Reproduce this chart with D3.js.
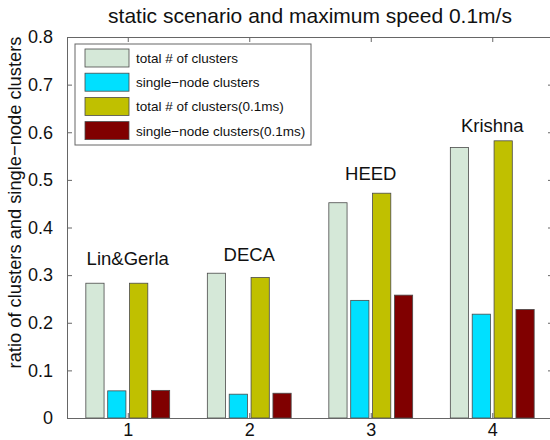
<!DOCTYPE html>
<html lang="en">
<head>
<meta charset="UTF-8">
<title>static scenario and maximum speed 0.1m/s</title>
<script src="https://d3js.org/d3.v7.min.js"></script>
<style>
    body { margin: 0; background: #fff; font-family: "Liberation Sans", Arial, sans-serif; }
    svg { display: block; }
</style>
</head>
<body>
<div id="chart"></div>
<script>
    // data
    const groups = [1, 2, 3, 4];
    const series = ["total # of clusters", "single\u2212node clusters",
                    "total # of clusters(0.1ms)", "single\u2212node clusters(0.1ms)"];
    const totalStatic = [0.283, 0.304, 0.452, 0.568];
    const singleStatic = [0.057, 0.050, 0.247, 0.218];
    const totalMoving = [0.283, 0.295, 0.472, 0.582];
    const singleMoving = [0.058, 0.052, 0.258, 0.228];
    const protocols = ["Lin&Gerla", "DECA", "HEED", "Krishna"];
    const labelY = [0.321, 0.329, 0.5, 0.601];
    const yTicks = [0, 0.1, 0.2, 0.3, 0.4, 0.5, 0.6, 0.7, 0.8];

    const colors = ["#d5e8d8", "#00e0ff", "#c0c000", "#800000"];
    const values = [totalStatic, singleStatic, totalMoving, singleMoving];

    const W = 550, H = 440;
    const margin = { top: 37, right: -3, bottom: 22, left: 67 };
    const width = W - margin.left - margin.right,
          height = H - margin.top - margin.bottom;

    const svg = d3.select("#chart").append("svg")
        .attr("width", W).attr("height", H);
    const g = svg.append("g")
        .attr("transform", `translate(${margin.left},${margin.top})`);

    const x = d3.scaleLinear().domain([0.5, 4.5]).range([0, width]);
    const y = d3.scaleLinear().domain([0, 0.8]).range([height, 0]);

    const step = x(2) - x(1);
    const barW = step * 0.15;
    const offsets = [-1.5, -0.5, 0.5, 1.5].map(k => k * step * 0.18);

    // bars
    values.forEach((vals, s) => {
        g.append("g").selectAll("rect")
            .data(vals)
            .enter().append("rect")
            .attr("x", (d, i) => x(groups[i]) + offsets[s] - barW / 2)
            .attr("y", d => y(d))
            .attr("width", barW)
            .attr("height", d => height - y(d))
            .attr("fill", colors[s])
            .attr("stroke", "#4a4a4a")
            .attr("stroke-width", 0.8);
    });

    // axes (box with inward ticks)
    const axisColor = "#666";
    const tickFont = "18px";

    const leftAxis = g.append("g")
        .call(d3.axisLeft(y).tickValues(yTicks).tickSize(-5).tickPadding(14)
            .tickFormat(d => d === 0 ? "0" : d3.format(".1f")(d)));
    const bottomAxis = g.append("g")
        .attr("transform", `translate(0,${height})`)
        .call(d3.axisBottom(x).tickValues(groups).tickSize(-5).tickPadding(5)
            .tickFormat(d3.format("d")));
    const rightAxis = g.append("g")
        .attr("transform", `translate(${width},0)`)
        .call(d3.axisRight(y).tickValues(yTicks).tickSize(-5).tickFormat(""));
    const topAxis = g.append("g")
        .call(d3.axisTop(x).tickValues(groups).tickSize(-5).tickFormat(""));

    [leftAxis, bottomAxis, rightAxis, topAxis].forEach(a => {
        a.select(".domain").attr("stroke", axisColor);
        a.selectAll(".tick line").attr("stroke", axisColor);
        a.selectAll("text")
            .attr("fill", "#111")
            .style("font-family", "'Liberation Sans', Arial, sans-serif")
            .style("font-size", tickFont);
    });

    // protocol names
    g.selectAll(".proto")
        .data(protocols)
        .enter().append("text")
        .attr("class", "proto")
        .attr("x", (d, i) => x(groups[i]))
        .attr("y", (d, i) => y(labelY[i]))
        .attr("text-anchor", "middle")
        .style("font-size", "18.5px")
        .attr("fill", "#111")
        .text(d => d);

    // legend
    const legend = g.append("g").attr("transform", "translate(8,7)");
    legend.append("rect")
        .attr("width", 236).attr("height", 101)
        .attr("fill", "#fff").attr("stroke", "#666");
    series.forEach((name, i) => {
        const row = legend.append("g").attr("transform", `translate(10,${5 + i * 24.2})`);
        row.append("rect")
            .attr("width", 44).attr("height", 18)
            .attr("fill", colors[i]).attr("stroke", "#4a4a4a").attr("stroke-width", 0.8);
        row.append("text")
            .attr("x", 51).attr("y", 14)
            .style("font-size", "13.5px")
            .attr("fill", "#111")
            .text(name);
    });

    // title
    svg.append("text")
        .attr("x", 310).attr("y", 23)
        .attr("text-anchor", "middle")
        .style("font-size", "21px")
        .attr("fill", "#111")
        .text("static scenario and maximum speed 0.1m/s");

    // y label
    svg.append("text")
        .attr("transform", `translate(21,${margin.top + height / 2 - 25}) rotate(-90)`)
        .attr("text-anchor", "middle")
        .style("font-size", "18.3px")
        .attr("fill", "#111")
        .text("ratio of clusters and single\u2212node clusters");
</script>
</body>
</html>
